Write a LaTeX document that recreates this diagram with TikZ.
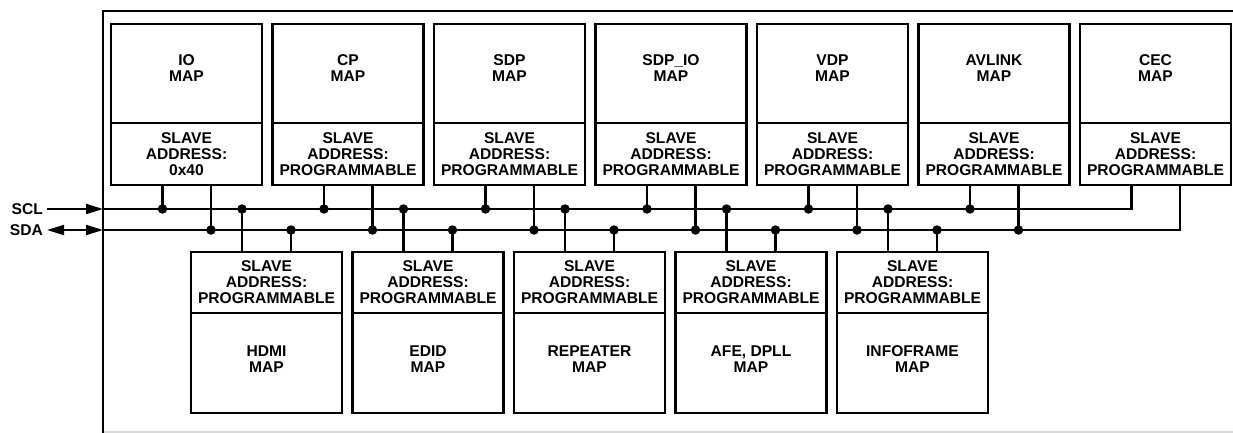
\documentclass[tikz,border=0pt]{standalone}
\usepackage{fontspec}
\setmainfont{Liberation Sans}
\usetikzlibrary{arrows.meta}
\tikzset{
  txtfont/.style={font=\fontsize{15.6pt}{16pt}\selectfont\bfseries},
  sect/.style={draw, line width=2.1pt, minimum width=151pt, inner sep=0pt, outer sep=0pt,
               anchor=north west, align=center, txtfont},
  upper/.style={sect, minimum height=99pt},
  addr/.style={sect, minimum height=62pt},
  lower/.style={sect, minimum height=100pt},
  baddr/.style={sect, minimum height=61pt},
  title/.style={align=center, inner sep=0pt, txtfont},
  bus/.style={line width=2.1pt},
  dot/.style={circle, fill, inner sep=0pt, minimum size=9.5pt},
  tip/.style={line width=2.1pt},
}
\newcommand\topmap[4]{%
  \node[upper] (#1) at (#2,-24) {};
  \node[title] (#1t) at ([yshift=-44pt]#1.north) {#3};
  \node[addr] (#1a) at (#2,-123) {SLAVE\\ADDRESS:\\#4};
  \coordinate (#1s) at ([xshift=51.5pt]#1a.south west);
  \coordinate (#1d) at ([xshift=100pt]#1a.south west);
}
\newcommand\topconn[1]{%
  \draw[bus] (#1s) -- (#1s |- scl) node[dot] (#1sj) {};
  \draw[bus] (#1d) -- (#1d |- sda) node[dot] (#1dj) {};
}
\newcommand\botmap[3]{%
  \node[baddr] (#1a) at (#2,-252) {SLAVE\\ADDRESS:\\PROGRAMMABLE};
  \node[lower] (#1) at (#2,-313) {};
  \node[title] (#1t) at ([yshift=-46pt]#1.north) {#3};
  \coordinate (#1s) at ([xshift=51pt]#1a.north west);
  \coordinate (#1d) at ([xshift=100pt]#1a.north west);
  \draw[bus] (#1s) -- (#1s |- scl) node[dot] (#1sj) {};
  \draw[bus] (#1d) -- (#1d |- sda) node[dot] (#1dj) {};
}
\begin{document}
\begin{tikzpicture}[x=1pt,y=1pt]
\useasboundingbox (0,0) rectangle (1233,-433);
% frame
\draw[gray!30, line width=1.2pt] (103,-432) -- (1233,-432);
\draw[line width=2.4pt] (103,-433) -- (103,-11) -- (1233,-11);
% bus coordinates
\coordinate (scl) at (103,-209);
\coordinate (sda) at (103,-230);
\coordinate (sclin) at (47,-209);
\coordinate (sdain) at (47,-230);
% top maps
\topmap{io}{111}{IO\\MAP}{0x40}
\topmap{cp}{272.5}{CP\\MAP}{PROGRAMMABLE}
\topmap{sdp}{434}{SDP\\MAP}{PROGRAMMABLE}
\topmap{sdpio}{595.5}{SDP\_IO\\MAP}{PROGRAMMABLE}
\topmap{vdp}{757}{VDP\\MAP}{PROGRAMMABLE}
\topmap{avlink}{918.5}{AVLINK\\MAP}{PROGRAMMABLE}
\topmap{cec}{1080}{CEC\\MAP}{PROGRAMMABLE}
% buses
\draw[bus] (scl) -| (cecs);
\draw[bus] (sda) -| (cecd);
\topconn{io}
\topconn{cp}
\topconn{sdp}
\topconn{sdpio}
\topconn{vdp}
\topconn{avlink}
% bottom maps
\botmap{hdmi}{191}{HDMI\\MAP}
\botmap{edid}{352.5}{EDID\\MAP}
\botmap{rep}{514}{REPEATER\\MAP}
\botmap{afe}{675.5}{AFE, DPLL\\MAP}
\botmap{info}{837}{INFOFRAME\\MAP}
% inputs
\node[title, anchor=east] (scllbl) at (43,-209) {SCL};
\node[title, anchor=east] (sdalbl) at (43,-230) {SDA};
\draw[tip, -{Triangle[length=17pt,width=10pt]}] (sclin) -- (scl);
\draw[tip, {Triangle[length=17pt,width=10pt]}-{Triangle[length=17pt,width=10pt]}] (sdain) -- (sda);
\end{tikzpicture}
\end{document}
